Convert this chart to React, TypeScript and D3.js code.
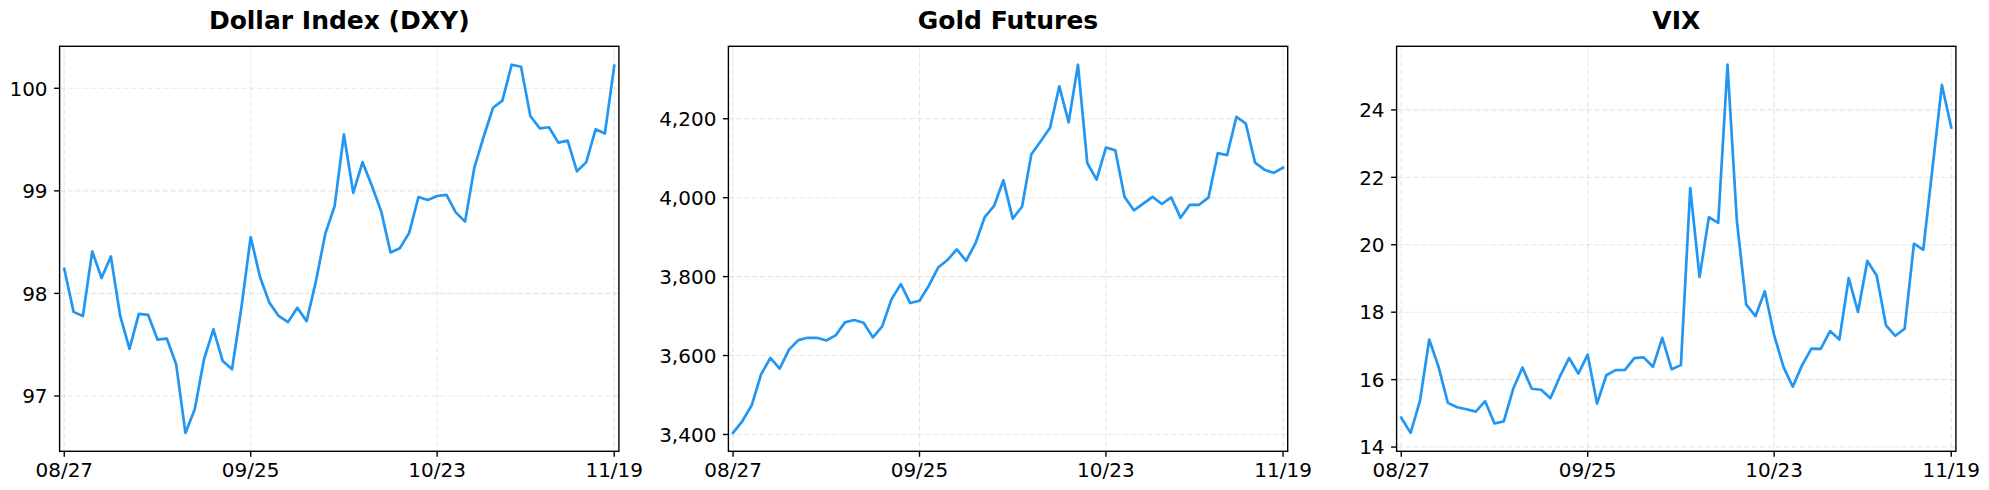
import React from 'react';
import * as d3 from 'd3';

const titles = ['Dollar Index (DXY)', 'Gold Futures', 'VIX'];

const dxyValues = [
  98.24, 97.82, 97.78, 98.41, 98.15, 98.36, 97.78, 97.46, 97.8, 97.79,
  97.55, 97.56, 97.31, 96.64, 96.87, 97.36, 97.65, 97.34, 97.26, 97.86,
  98.55, 98.16, 97.91, 97.78, 97.72, 97.86, 97.73, 98.12, 98.58, 98.85,
  99.55, 98.98, 99.28, 99.05, 98.8, 98.4, 98.44, 98.59, 98.94, 98.91,
  98.95, 98.96, 98.79, 98.7, 99.23, 99.53, 99.81, 99.88, 100.23, 100.21,
  99.73, 99.61, 99.62, 99.47, 99.49, 99.19, 99.28, 99.6, 99.56, 100.22,
];

const goldValues = [
  3404, 3434, 3474, 3552, 3594, 3567, 3615, 3639, 3645, 3645,
  3638, 3651, 3684, 3690, 3683, 3646, 3674, 3743, 3781, 3733,
  3739, 3777, 3823, 3842, 3869, 3840, 3884, 3951, 3979, 4044,
  3947, 3977, 4110, 4143, 4177, 4282, 4191, 4337, 4088, 4046,
  4127, 4120, 4002, 3968, 3985, 4002, 3984, 4001, 3949, 3982,
  3982, 4000, 4113, 4108, 4205, 4188, 4089, 4071, 4063, 4076,
];

const vixValues = [
  14.87, 14.42, 15.36, 17.19, 16.38, 15.31, 15.18, 15.12, 15.05, 15.36,
  14.7, 14.76, 15.72, 16.36, 15.73, 15.7, 15.45, 16.08, 16.64, 16.18,
  16.74, 15.29, 16.13, 16.28, 16.29, 16.64, 16.66, 16.38, 17.24, 16.31,
  16.43, 21.68, 19.04, 20.82, 20.65, 25.34, 20.72, 18.23, 17.88, 18.62,
  17.32, 16.38, 15.79, 16.43, 16.92, 16.91, 17.44, 17.19, 19.01, 18.01,
  19.52, 19.09, 17.61, 17.3, 17.51, 20.03, 19.85, 22.3, 24.74, 23.48,
];

const xTickIdx = [0, 20, 40, 59];
const xTickLabels = ['08/27', '09/25', '10/23', '11/19'];
const dxyTicks = [97, 98, 99, 100];
const goldTicks = [3400, 3600, 3800, 4000, 4200];
const vixTicks = [14, 16, 18, 20, 22, 24];

const W = 1989;
const H = 490;
const panelLefts = [59.6, 728.4, 1396.6];
const panelW = 559.3;
const top = 46.3;
const bottom = 451.3;
const FONT = 'DejaVu Sans, sans-serif';
const LINE = '#2196F3';
const tickLen = 5.5;
const tickPad = 6.5;
const tickFs = 20;

type PanelProps = {
  left: number;
  title: string;
  values: number[];
  ticks: number[];
  fmt: (v: number) => string;
};

function Panel({ left, title, values, ticks, fmt }: PanelProps) {
  const right = left + panelW;
  const x = d3.scaleLinear().domain([-0.5, values.length - 0.5]).range([left, right]);
  const [mn, mx] = d3.extent(values) as [number, number];
  const pad = (mx - mn) * 0.05;
  const y = d3.scaleLinear().domain([mn - pad, mx + pad]).range([bottom, top]);
  const line = d3
    .line<number>()
    .x((_, i) => x(i))
    .y((d) => y(d));
  const clipId = 'clip-' + Math.round(left);
  return (
    <g>
      <defs>
        <clipPath id={clipId}>
          <rect x={left} y={top} width={panelW} height={bottom - top} />
        </clipPath>
      </defs>
      {xTickIdx.map((t) => (
        <line
          key={'gx' + t}
          x1={x(t)}
          x2={x(t)}
          y1={top}
          y2={bottom}
          stroke="#b0b0b0"
          strokeOpacity={0.32}
          strokeWidth={1.1}
          strokeDasharray="5.5,2.4"
        />
      ))}
      {ticks.map((t) => (
        <line
          key={'gy' + t}
          x1={left}
          x2={right}
          y1={y(t)}
          y2={y(t)}
          stroke="#b0b0b0"
          strokeOpacity={0.32}
          strokeWidth={1.1}
          strokeDasharray="5.5,2.4"
        />
      ))}
      <path
        d={line(values) || ''}
        fill="none"
        stroke={LINE}
        strokeWidth={2.7}
        strokeLinejoin="round"
        strokeLinecap="square"
        clipPath={`url(#${clipId})`}
      />
      <rect x={left} y={top} width={panelW} height={bottom - top} fill="none" stroke="#000" strokeWidth={1.4} />
      {xTickIdx.map((t, i) => (
        <g key={'xt' + t}>
          <line x1={x(t)} x2={x(t)} y1={bottom} y2={bottom + tickLen} stroke="#000" strokeWidth={1.4} />
          <text
            x={x(t)}
            y={476.8}
            textAnchor="middle"
            fontFamily={FONT}
            fontSize={tickFs}
            fill="#000"
          >
            {xTickLabels[i]}
          </text>
        </g>
      ))}
      {ticks.map((t) => (
        <g key={'yt' + t}>
          <line x1={left - tickLen} x2={left} y1={y(t)} y2={y(t)} stroke="#000" strokeWidth={1.4} />
          <text
            x={left - tickLen - tickPad}
            y={y(t) + tickFs * 0.364}
            textAnchor="end"
            fontFamily={FONT}
            fontSize={tickFs}
            fill="#000"
          >
            {fmt(t)}
          </text>
        </g>
      ))}
      <text
        x={(left + right) / 2}
        y={29.2}
        textAnchor="middle"
        fontFamily={FONT}
        fontWeight="bold"
        fontSize={25}
        fill="#000"
      >
        {title}
      </text>
    </g>
  );
}

export default function App() {
  const intFmt = d3.format('d');
  const commaFmt = d3.format(',');
  return (
    <svg
      width={W}
      height={H}
      viewBox={`0 0 ${W} ${H}`}
      style={{ position: 'absolute', left: 0, top: 0, background: '#fff' }}
    >
      <rect x={0} y={0} width={W} height={H} fill="#fff" />
      <Panel left={panelLefts[0]} title={titles[0]} values={dxyValues} ticks={dxyTicks} fmt={intFmt} />
      <Panel left={panelLefts[1]} title={titles[1]} values={goldValues} ticks={goldTicks} fmt={commaFmt} />
      <Panel left={panelLefts[2]} title={titles[2]} values={vixValues} ticks={vixTicks} fmt={intFmt} />
    </svg>
  );
}
